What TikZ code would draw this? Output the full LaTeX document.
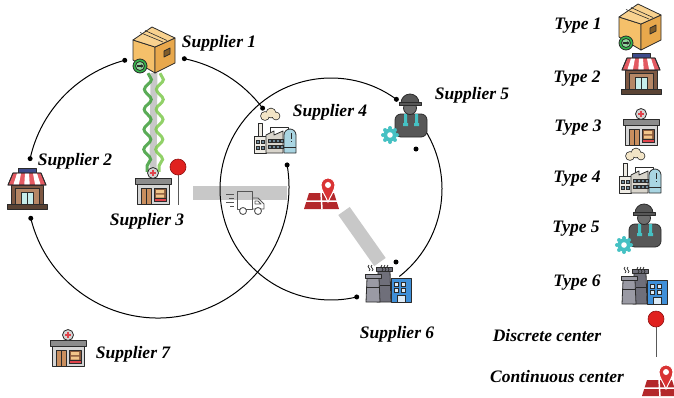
\documentclass[tikz,border=0pt]{standalone}
\usepackage{fontspec}
\setmainfont{Liberation Serif}
\usepackage{tikz}
\usetikzlibrary{arrows.meta,decorations.pathmorphing,positioning}
\tikzset{>={Latex[width=3pt,length=5pt]}}

\definecolor{ink}{HTML}{2B2B2B}
\definecolor{barGray}{HTML}{C8C8C8}
\definecolor{boxFront}{HTML}{F5C06A}
\definecolor{boxSide}{HTML}{E8A84C}
\definecolor{boxTop}{HTML}{F9D28F}
\definecolor{okGreen}{HTML}{34B44A}
\definecolor{leafDark}{HTML}{3E9E3A}
\definecolor{leafLight}{HTML}{7EC94E}
\definecolor{signBlue}{HTML}{3D4A8A}
\definecolor{awnRed}{HTML}{E35A62}
\definecolor{shopWall}{HTML}{7E5843}
\definecolor{shopPanel}{HTML}{B58665}
\definecolor{shopBase}{HTML}{5A4334}
\definecolor{doorBlue}{HTML}{C6ECEA}
\definecolor{roofGray}{HTML}{8C8C8C}
\definecolor{wallGray}{HTML}{D5D5D5}
\definecolor{doorTan}{HTML}{C98E5E}
\definecolor{shelfBrown}{HTML}{8A5A3C}
\definecolor{shelfTan}{HTML}{F0C58A}
\definecolor{crossRed}{HTML}{E0434B}
\definecolor{cloudTan}{HTML}{F2E4C6}
\definecolor{plantLight}{HTML}{EEEBE4}
\definecolor{plantMid}{HTML}{D8D4CB}
\definecolor{winSlate}{HTML}{6F8A9A}
\definecolor{tankBlue}{HTML}{A9D5E2}
\definecolor{suitGray}{HTML}{575757}
\definecolor{faceGray}{HTML}{6E6E6E}
\definecolor{gearTeal}{HTML}{45C1C3}
\definecolor{towerDark}{HTML}{6F6F7A}
\definecolor{towerLight}{HTML}{9A9AA4}
\definecolor{bldBlue}{HTML}{3F8FD8}
\definecolor{winLight}{HTML}{DDEBF7}
\definecolor{truckGray}{HTML}{555555}
\definecolor{pinRed}{HTML}{E0211F}
\definecolor{pinDark}{HTML}{8E1212}
\definecolor{mapRed}{HTML}{B3282B}
\definecolor{markRed}{HTML}{D93334}

\tikzset{
  ring/.style={line width=1pt},
  dot/.style={circle,fill=black,inner sep=0pt,minimum size=5pt},
  site/.style={inner sep=0pt,minimum width=40pt,minimum height=40pt},
  lbl/.style={font=\fontsize{17.5}{20}\selectfont\bfseries\itshape,inner sep=0pt},
  band/.style={line width=14pt,color=barGray},
  strand/.style={line width=3pt,opacity=.85,decorate,decoration={snake,segment length=20pt,amplitude=3.5pt}},
  icon/.style={draw=ink,line width=0.8pt,line join=round},
  % parcel with a go-arrow badge
  parcel/.pic={
    \draw[icon,fill=boxFront] (-21,-10) -- (1,-3) -- (1,23) -- (-21,10) -- cycle;
    \draw[icon,fill=boxSide] (1,-3) -- (21,-12) -- (21,13) -- (1,23) -- cycle;
    \draw[icon,fill=boxTop] (-21,-10) -- (-2,-23) -- (21,-12) -- (1,-3) -- cycle;
    \draw[ink,line width=0.6pt] (-14,-17.5) -- (9,-8) (-9,-19.5) -- (13,-9.5);
    \draw[icon,fill=boxSide!55!black] (10,1) -- (16,-2) -- (16,4) -- (10,7) -- cycle;
    \draw[icon,fill=okGreen] (-14,16) circle[radius=7];
    \draw[icon,fill=okGreen!55] (-14,16) circle[radius=4.5];
    \draw[ink,line width=1.2pt,-{Stealth[length=2.5pt,width=3.5pt]}] (-17,16) -- (-10.5,16);
  },
  % shop with striped awning
  shop/.pic={
    \draw[icon,fill=shopWall] (-16,-5) rectangle (16,15);
    \draw[icon,fill=shopPanel] (-12,-2) rectangle (12,15);
    \draw[icon,fill=doorBlue] (-6,2) rectangle (6,15);
    \draw[ink,line width=0.6pt] (0,2) -- (0,15);
    \draw[icon,fill=shopBase] (-20,14) rectangle (20,19);
    \draw[icon,fill=signBlue] (-9,-22) rectangle (9,-17);
    \draw[icon,fill=awnRed] (-14,-17) -- (14,-17) -- (19,-5) -- (-19,-5) -- cycle;
    \fill[white] (-10,-16.6) -- (-6,-16.6) -- (-8.1,-5.4) -- (-13.6,-5.4) -- cycle
                 (-2,-16.6) -- (2,-16.6) -- (2.7,-5.4) -- (-2.7,-5.4) -- cycle
                 (6,-16.6) -- (10,-16.6) -- (13.6,-5.4) -- (8.1,-5.4) -- cycle;
    \draw[icon] (-14,-17) -- (14,-17) -- (19,-5) -- (-19,-5) -- cycle;
  },
  % clinic with cross sign
  clinic/.pic={
    \draw[icon,fill=wallGray] (-16,-4) rectangle (16,17);
    \draw[icon,fill=roofGray] (-18,-9) rectangle (18,-3);
    \draw[icon,fill=doorTan] (-12,1) rectangle (-2,17);
    \draw[ink,line width=0.6pt] (-7,1) -- (-7,17);
    \draw[icon,fill=shelfBrown] (1,1) rectangle (13,14);
    \fill[shelfTan] (3,3) rectangle (11,6) (3,7.5) rectangle (11,10.5);
    \draw[icon,fill=crossRed] (1,11.5) rectangle (13,14);
    \draw[icon,fill=wallGray] (0,-14) circle[radius=5.5];
    \draw[crossRed,line width=1.6pt] (-3,-14) -- (3,-14) (0,-17) -- (0,-11);
  },
  % factory with smoke cloud and tank
  factory/.pic={
    \fill[ink] (-10,-15) circle[radius=4.8] (-4,-18) circle[radius=5.3] (1,-15) circle[radius=4.3];
    \fill[cloudTan] (-10,-15) circle[radius=4] (-4,-18) circle[radius=4.5] (1,-15) circle[radius=3.5];
    \draw[icon] (-5,4) -- (-5,-4) -- (13,-4) -- (13,0);
    \draw[icon,fill=plantLight] (-17,-8) rectangle (-13,8);
    \draw[icon,fill=plantLight] (-21,5) rectangle (-9,22);
    \draw[icon,fill=plantMid] (-9,22) -- (-9,4) -- (-1,0) -- (-1,4) -- (8,0) -- (8,22) -- cycle;
    \draw[icon,fill=tankBlue] (9,22) -- (9,4) arc[start angle=180,end angle=360,radius=6] -- (21,22) -- cycle;
    \foreach \x/\y in {-19/9,-14/9,-19/15,-14/15,-7/8,-3/8,1/8,5/8,-7/14,-3/14,1/14,5/14}
      \draw[ink,fill=winSlate,line width=0.4pt] (\x,\y) rectangle ++(3,3);
    \draw[ink,line width=1pt] (16,2) -- (16,8) (16,10) -- (16,11);
    \draw[ink,line width=0.5pt] (9,16) -- (21,16);
  },
  % worker with gear
  worker/.pic={
    \draw[icon,fill=suitGray,rounded corners=6pt] (-11,18) rectangle (21,-5);
    \fill[gearTeal] (-2,-5) rectangle (1,6) (9,-5) rectangle (12,6) (-3,4) rectangle (2,7) (8,4) rectangle (13,7);
    \draw[icon,fill=faceGray] (4,-11) circle[radius=6.5];
    \draw[icon,fill=suitGray] (-5,-16) arc[start angle=180,end angle=360,radius=9] -- cycle;
    \draw[icon,fill=suitGray] (-7,-16.5) rectangle (15,-13.5);
    \fill[gearTeal] (-16,16) circle[radius=6.5];
    \foreach \a in {0,45,...,315}
      \fill[gearTeal] ([shift={(\a:7)}]-16,16) circle[radius=2];
    \fill[white] (-16,16) circle[radius=2.8];
  },
  % power plant with office block
  plant/.pic={
    \draw[icon,fill=towerDark] (-10,-9) -- (2,-9) -- (3,22) -- (-11,22) -- cycle;
    \draw[icon,fill=towerDark] (-12,-13) rectangle (4,-9);
    \draw[icon,fill=towerLight] (-21,-2) -- (-9,-2) -- (-8,22) -- (-22,22) -- cycle;
    \draw[icon,fill=towerLight] (-23,-6) rectangle (-7,-2);
    \draw[ink,line width=0.6pt] (-21.5,7) -- (-8.5,7) (-8,5) -- (2.5,5);
    \draw[icon,fill=bldBlue] (3,-2) rectangle (23,22);
    \foreach \x/\y in {6/2,13/2,6/8,13/8}
      \draw[ink,fill=winLight,line width=0.5pt] (\x,\y) rectangle ++(4,4);
    \draw[ink,fill=winLight,line width=0.5pt] (9,15) rectangle (17,22);
    \foreach \x in {-19,-16,-6,-3,0}
      \draw[ink,line width=0.7pt] (\x,-9) sin (\x+1,-10.5) cos (\x,-12) sin (\x-1,-13.5) cos (\x,-15);
  },
  % delivery truck outline
  truck/.pic={
    \draw[truckGray,line width=0.9pt,line join=round] (-9,-12) rectangle (6,6);
    \draw[truckGray,line width=0.9pt,line join=round] (6,-5) -- (12,-5) -- (18,1) -- (18,6) -- (6,6);
    \draw[truckGray,line width=0.9pt,line join=round] (9,-2) -- (12,-2) -- (15,1) -- (9,1) -- cycle;
    \draw[truckGray,line width=0.9pt,fill=white] (-3,8) circle[radius=3.5] (12,8) circle[radius=3.5];
    \draw[truckGray,line width=0.9pt] (-20,-9) -- (-12,-9) (-17,-5) -- (-12,-5) (-20,-1) -- (-12,-1) (-16,3) -- (-12,3);
  },
  % map with location marker
  mappin/.pic={
    \fill[mapRed] (-13,0) -- (12,0) -- (17,16) -- (-18,16) -- cycle;
    \draw[white,line width=1.5pt] (-1,0) -- (0,16) (-16,8) -- (15,8);
    \filldraw[markRed,draw=white,line width=1pt] (6,9) .. controls (3,2) and (-1,-3) .. (-1,-8)
      arc[start angle=180,end angle=360,radius=7] .. controls (13,-3) and (9,2) .. (6,9) -- cycle;
    \fill[white] (6,-8) circle[radius=3];
  },
  % discrete center marker
  dpin/.pic={
    \draw[gray!70!black,line width=0.8pt] (0,8) -- (0,38);
    \draw[draw=pinDark,fill=pinRed,line width=0.6pt] (0,0) circle[radius=8];
  },
}

\begin{document}
\begin{tikzpicture}[x=1pt,y=-1pt]
  \useasboundingbox (0,0) rectangle (674,397);

  % ring centres
  \coordinate (lc) at (158,187);
  \coordinate (rc) at (331,189);

  % grey links
  \coordinate (h1) at (193,193);
  \coordinate (h2) at (287,193);
  \coordinate (g1) at (344,211);
  \coordinate (g2) at (380,262);
  \draw[band] (h1) -- (h2);
  \draw[band] (g1) -- (g2);

  % left ring
  \draw[ring] ([shift={(-78.4:131)}]lc) node[dot] (p1) {}
    arc[start angle=-78.4,end angle=-37,radius=131] node[dot] (p2) {};
  \draw[ring] ([shift={(-104.7:131)}]lc) node[dot] (p3) {}
    arc[start angle=-104.7,end angle=-167.5,radius=131] node[dot] (p4) {};
  \draw[ring] ([shift={(166.2:131)}]lc) node[dot] (p5) {}
    arc[start angle=166.2,end angle=-9.7,radius=131] node[dot] (p6) {};

  % right ring
  \draw[ring] ([shift={(-53.9:111)}]rc) node[dot] (q1) {}
    arc[start angle=-53.9,end angle=-283.4,radius=111] node[dot] (q2) {};
  \draw[ring] ([shift={(-32:111)}]rc) arc[start angle=-32,end angle=52,radius=111];
  \node[dot] (q3) at (416,149) {};
  \node[dot] (q4) at (396,262) {};

  % suppliers
  \node[site] (s1) at (154,50) {};
  \node[site] (s2) at (27,190) {};
  \node[site] (s3) at (153,187) {};
  \node[site] (s4) at (275,131) {};
  \node[site] (s5) at (406,119) {};
  \node[site] (s6) at (388,280) {};
  \node[site] (s7) at (68,349) {};

  % wavy link 1-3
  \draw[barGray,line width=7pt] ([yshift=-3pt]s1.south) -- ([yshift=-5pt]s3.north);
  \draw[strand,leafDark] ([xshift=-6pt,yshift=-3pt]s1.south) -- ([xshift=-6pt,yshift=-5pt]s3.north);
  \draw[strand,leafLight] ([xshift=6pt,yshift=-3pt]s1.south) -- ([xshift=6pt,yshift=-5pt]s3.north);

  \pic at (s1) {parcel};
  \pic at (s2) {shop};
  \pic at (s3) {clinic};
  \pic at (s4) {factory};
  \pic at (s5) {worker};
  \pic at (s6) {plant};
  \pic at (s7) {clinic};

  % centres and truck
  \node[site] (dc) at (178,167) {};
  \pic at (dc) {dpin};
  \node[site] (cc) at (322,193) {};
  \pic at (cc) {mappin};
  \node[site] (tr) at (246,203) {};
  \pic at (tr) {truck};

  \node[lbl] (n1) at (219,43) {Supplier 1};
  \node[lbl] (n2) at (75,161) {Supplier 2};
  \node[lbl] (n3) at (147,221) {Supplier 3};
  \node[lbl] (n4) at (330,112) {Supplier 4};
  \node[lbl] (n5) at (472,95) {Supplier 5};
  \node[lbl] (n6) at (397,334) {Supplier 6};
  \node[lbl] (n7) at (133,354) {Supplier 7};

  % legend
  \node[site] (t1) at (640,27) {};
  \node[site] (t2) at (641,75) {};
  \node[site] (t3) at (641,128) {};
  \node[site] (t4) at (640,171) {};
  \node[site] (t5) at (640,229) {};
  \node[site] (t6) at (644,282) {};
  \node[site] (td) at (656,319) {};
  \node[site] (tc) at (660,380) {};
  \pic at (t1) {parcel};
  \pic at (t2) {shop};
  \pic at (t3) {clinic};
  \pic at (t4) {factory};
  \pic at (t5) {worker};
  \pic at (t6) {plant};
  \pic at (td) {dpin};
  \pic at (tc) {mappin};

  \node[lbl] (k1) at (578,26) {Type 1};
  \node[lbl] (k2) at (577,79) {Type 2};
  \node[lbl] (k3) at (578,128) {Type 3};
  \node[lbl] (k4) at (577,179) {Type 4};
  \node[lbl] (k5) at (576,229) {Type 5};
  \node[lbl] (k6) at (577,283) {Type 6};
  \node[lbl] (kd) at (547,336) {Discrete center};
  \node[lbl] (kc) at (557,377) {Continuous center};
\end{tikzpicture}
\end{document}
